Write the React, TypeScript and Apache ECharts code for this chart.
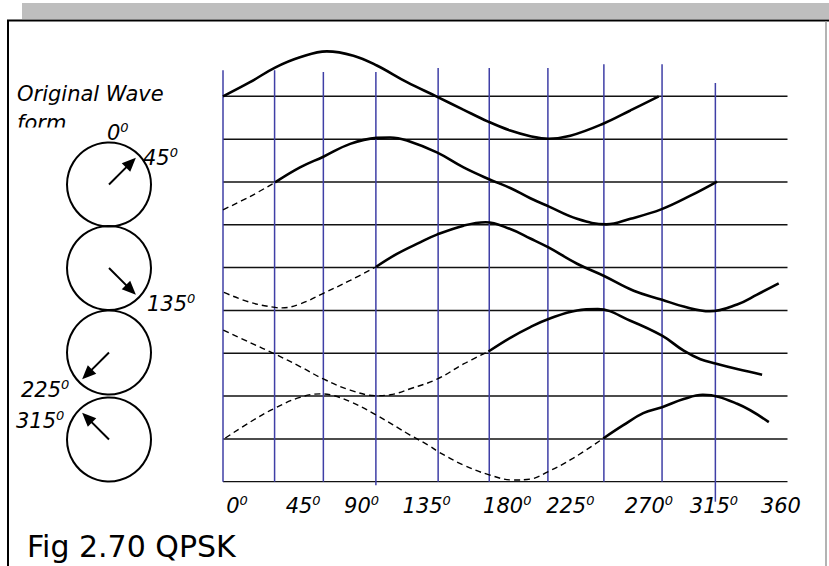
import React, { useEffect, useRef } from 'react';
import * as echarts from 'echarts';

// ---------- data (x in degrees of phase, y in "row level" units) ----------
const phaseLinePositions = [0, 32.9, 64.0, 97.5, 137.2, 169.8, 207.2, 242.9, 280.0, 314.0];
const phaseLineTops = [9.61, 9.61, 9.57, 9.57, 9.66, 9.66, 9.66, 9.75, 9.75, 9.31];
const phaseLineBottoms = [0, 0, 0, -0.08, 0, 0, 0, 0, 0, -0.47];
const levelLines = [0, 1, 2, 3, 4, 5, 6, 7, 8, 9];

const tickLabels = ['0', '45', '90', '135', '180', '225', '270', '315', '360'];
const tickSuperscripts = ['0', '0', '0', '0', '0', '0', '0', '0', ''];
const tickPositions = [8.9, 51.1, 88.4, 129.9, 181.3, 221.5, 271.6, 313.1, 355.8];

const wave1Solid = [
  [0, 9], [17.2, 9.33], [33.2, 9.67], [49.1, 9.91], [66.2, 10.05], [83.2, 9.95], [98.1, 9.72],
  [117.3, 9.33], [136, 9.0], [153.2, 8.69], [169.1, 8.41], [183.2, 8.2], [196, 8.07], [207.6, 8.01],
  [221.5, 8.08], [242.4, 8.36], [259.8, 8.67], [277.9, 9.0],
];
const wave2Dashed = [[0, 6.35], [17.2, 6.66], [33.2, 6.99]];
const wave2Solid = [
  [33.2, 6.99], [49.1, 7.34], [64, 7.59], [81.1, 7.89], [98.1, 8.03], [106.6, 8.04], [117.3, 7.97],
  [136.4, 7.69], [153.4, 7.34], [169.3, 7.07], [183.2, 6.86], [196, 6.62], [207.6, 6.43], [225.8, 6.14],
  [244.5, 6.01], [259.8, 6.14], [279.4, 6.36], [298.1, 6.68], [315.1, 7.01],
];
const wave3Dashed = [
  [0.6, 4.42], [17.2, 4.19], [33.2, 4.07], [37.5, 4.06], [49.1, 4.15], [64, 4.4], [81.1, 4.7], [97.7, 5.02],
];
const wave3Solid = [
  [97.7, 5.02], [110.9, 5.32], [125.7, 5.59], [136.4, 5.77], [153.4, 5.98], [167.5, 6.06],
  [183.2, 5.9], [196, 5.68], [207.6, 5.47], [225.8, 5.09], [242.7, 4.81], [261.9, 4.46], [280, 4.25],
  [293.8, 4.09], [310.5, 3.98], [327.9, 4.14], [340.6, 4.37], [354.4, 4.63],
];
const wave4Dashed = [
  [0.2, 3.54], [17.2, 3.25], [33.2, 2.98], [49.1, 2.69], [64, 2.4], [81.1, 2.14], [97.7, 2.01],
  [106.6, 2.03], [119.4, 2.17], [136.8, 2.4], [153.4, 2.75], [169.3, 3.04],
];
const wave4Solid = [
  [169.3, 3.04], [183.2, 3.36], [196, 3.61], [207.6, 3.8], [225.8, 4.0], [239, 4.03],
  [259.8, 3.76], [280, 3.41], [293.8, 3.06], [304.5, 2.86], [314, 2.76], [327.9, 2.63], [343.8, 2.5],
];
const wave5Dashed = [
  [1.5, 1.02], [17.2, 1.39], [33.2, 1.72], [49.1, 1.97], [61.9, 2.05], [68.3, 2.03], [81, 1.87],
  [97.6, 1.56], [119.3, 1.09], [132, 0.83], [137.3, 0.7], [153.3, 0.39], [169.8, 0.16], [185.1, 0.04],
  [195.8, 0.06], [207.1, 0.23], [223.4, 0.55], [242.5, 1.01],
];
const wave5Solid = [
  [242.5, 1.01], [255.3, 1.32], [268, 1.6], [280, 1.74], [293.8, 1.93], [306, 2.03],
  [327.9, 1.82], [348.1, 1.39],
];

const phasorAngles = [45, 135, 225, 315];
const phasorLabels = ['0', '45', '135', '225', '315'];
const sideTitle = 'Original Wave\nform';
const caption = 'Fig 2.70 QPSK';

// ---------- layout / style ----------
const FONT = 'DejaVu Sans';
const circleCenters = [[109, 184.5], [109, 268], [109, 352.5], [109, 439.5]];
const circleR = 42;
const arrowLen = 38;
const phasorLabelPos = [[107, 133], [143, 158], [147, 303.5], [21, 389.5], [16, 420.5]];

const richDeg = {
  n: { fontFamily: FONT, fontStyle: 'italic', fontSize: 21, color: '#000', lineHeight: 24 },
  s: { fontFamily: FONT, fontStyle: 'italic', fontSize: 13, color: '#000', lineHeight: 14, verticalAlign: 'top' },
};

function arrowGraphics(cx: number, cy: number, angle: number) {
  const a = (angle * Math.PI) / 180;
  const ux = Math.sin(a);
  const uy = -Math.cos(a);
  const tx = cx + ux * arrowLen;
  const ty = cy + uy * arrowLen;
  const headLen = 14;
  const headHalf = 6;
  const bx = tx - ux * headLen;
  const by = ty - uy * headLen;
  const nx = -uy;
  const ny = ux;
  return [
    { type: 'line', shape: { x1: cx, y1: cy, x2: bx + ux * 2, y2: by + uy * 2 }, style: { stroke: '#000', lineWidth: 2 } },
    {
      type: 'polygon',
      shape: { points: [[tx, ty], [bx + nx * headHalf, by + ny * headHalf], [bx - nx * headHalf, by - ny * headHalf]] },
      style: { fill: '#000' },
    },
  ];
}

export default function App() {
  const ref = useRef<HTMLDivElement>(null);
  useEffect(() => {
    if (!ref.current) return;
    const chart = echarts.init(ref.current, null, { renderer: 'svg' });

    const series: any[] = [];
    levelLines.forEach((lv) => {
      series.push({
        type: 'line', data: [[0, lv], [360, lv]], symbol: 'none', silent: true, z: 2,
        lineStyle: { color: '#111', width: 1.5 },
      });
    });
    phaseLinePositions.forEach((x, i) => {
      series.push({
        type: 'line', data: [[x, phaseLineBottoms[i]], [x, phaseLineTops[i]]], symbol: 'none', silent: true,
        clip: false, z: 3, lineStyle: { color: '#3f3fa6', width: 1.5 },
      });
    });
    const solids = [wave1Solid, wave2Solid, wave3Solid, wave4Solid, wave5Solid];
    const dashes = [wave2Dashed, wave3Dashed, wave4Dashed, wave5Dashed];
    dashes.forEach((d) => {
      series.push({
        type: 'line', data: d, symbol: 'none', smooth: 0.4, silent: true, z: 4,
        lineStyle: { color: '#000', width: 1.4, type: [6, 4] },
      });
    });
    solids.forEach((d) => {
      series.push({
        type: 'line', data: d, symbol: 'none', smooth: 0.4, silent: true, z: 5,
        lineStyle: { color: '#000', width: 2.6 },
      });
    });

    const graphics: any[] = [
      { type: 'rect', shape: { x: 22, y: 3, width: 807, height: 16 }, style: { fill: '#bebebe' } },
      { type: 'line', shape: { x1: 7, y1: 20.5, x2: 829, y2: 20.5 }, style: { stroke: '#000', lineWidth: 2.2 } },
      { type: 'line', shape: { x1: 8, y1: 20, x2: 8, y2: 566 }, style: { stroke: '#000', lineWidth: 2 } },
      { type: 'line', shape: { x1: 826, y1: 21, x2: 826, y2: 566 }, style: { stroke: '#9a9a9a', lineWidth: 1.5 } },
      {
        type: 'text', x: 17, y: 79,
        style: { text: sideTitle, font: `italic 21px "${FONT}"`, fill: '#000', lineHeight: 29, verticalAlign: 'top', align: 'left' },
      },
      { type: 'rect', shape: { x: 12, y: 127.5, width: 92, height: 16 }, style: { fill: '#fff' } },
      {
        type: 'text', x: 27, y: 546,
        style: { text: caption, font: `30px "${FONT}"`, fill: '#000', verticalAlign: 'middle', align: 'left' },
      },
    ];
    circleCenters.forEach(([cx, cy], i) => {
      graphics.push({ type: 'circle', shape: { cx, cy, r: circleR }, style: { fill: 'none', stroke: '#000', lineWidth: 2 } });
      graphics.push(...arrowGraphics(cx, cy, phasorAngles[i]));
    });
    phasorLabels.forEach((t, i) => {
      graphics.push({
        type: 'text', x: phasorLabelPos[i][0], y: phasorLabelPos[i][1],
        style: { text: `{n|${t}}{s|0}`, rich: richDeg, align: 'left', verticalAlign: 'middle' },
      });
    });

    chart.setOption({
      animation: false,
      backgroundColor: '#fff',
      grid: { left: 223, right: 41.5, top: 32.1, bottom: 84.3 },
      xAxis: {
        type: 'value', min: 0, max: 360,
        axisLine: { show: false }, axisTick: { show: false }, splitLine: { show: false },
        axisLabel: {
          customValues: tickPositions,
          margin: 12,
          hideOverlap: false,
          formatter: (v: number) => {
            const i = tickPositions.findIndex((p) => Math.abs(p - v) < 1e-6);
            if (i < 0) return '';
            return tickSuperscripts[i] ? `{n|${tickLabels[i]}}{s|${tickSuperscripts[i]}}` : `{n|${tickLabels[i]}}`;
          },
          rich: richDeg,
        },
      },
      yAxis: {
        type: 'value', min: 0, max: 10.5, show: false,
        axisLine: { show: false }, axisTick: { show: false }, splitLine: { show: false }, axisLabel: { show: false },
      },
      series,
      graphic: graphics,
    });
    return () => chart.dispose();
  }, []);
  return <div ref={ref} style={{ position: 'absolute', left: 0, top: 0, width: 829, height: 566 }} />;
}
